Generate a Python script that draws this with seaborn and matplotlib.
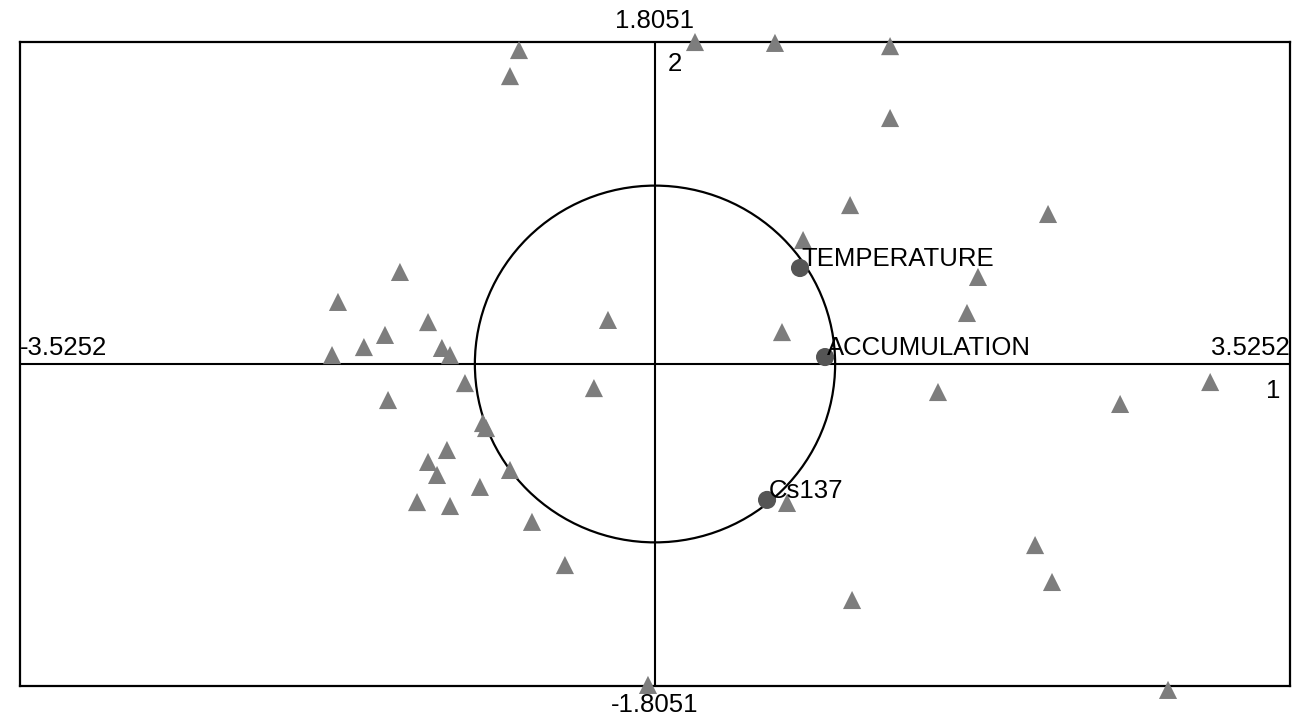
import matplotlib
matplotlib.use("Agg")
import matplotlib.pyplot as plt
from matplotlib.patches import Circle
import seaborn as sns
import pandas as pd

# axis extents of the factorial plane
x_lim = 3.5252
y_lim = 1.8051

# observations (factor 1, factor 2)
obs_f1 = [-0.755, -0.805, 0.222, 0.666, 1.305, 1.305, 1.083, 2.182, 0.822, 1.793,
          1.732, 0.705, -0.261, -1.416, -1.760, -1.499, -1.260, -1.616, -1.793, -1.183,
          -1.138, -1.055, -1.482, -0.339, 1.571, 2.582, 3.082, -0.955, -0.938, -1.155,
          -1.260, -1.210, -0.805, -0.972, -1.321, -1.138, -0.683, -0.500, 0.733, 2.110,
          2.204, 1.094, 2.848, -0.039]
obs_f2 = [1.760, 1.614, 1.805, 1.800, 1.782, 1.379, 0.891, 0.841, 0.695, 0.488,
          0.286, 0.179, 0.247, 0.516, 0.348, 0.163, 0.235, 0.095, 0.050, 0.090,
          0.050, -0.107, -0.202, -0.135, -0.157, -0.224, -0.101, -0.331, -0.359, -0.482,
          -0.549, -0.622, -0.594, -0.689, -0.774, -0.796, -0.885, -1.127, -0.779, -1.015,
          -1.222, -1.323, -1.827, -1.799]

# variables on the correlation circle
var_names = ["TEMPERATURE", "ACCUMULATION", "Cs137"]
var_f1 = [0.805, 0.944, 0.622]
var_f2 = [0.538, 0.039, -0.762]

obs = pd.DataFrame({"f1": obs_f1, "f2": obs_f2})
var = pd.DataFrame({"name": var_names, "f1": var_f1, "f2": var_f2})

sns.set_style("white")
plt.rcParams["font.family"] = ["Liberation Sans", "DejaVu Sans"]
plt.rcParams["text.color"] = "black"

fs = 18.5

fig = plt.figure(figsize=(13.1, 7.22), dpi=100)
ax = fig.add_axes([20 / 1310, 36 / 722, 1270 / 1310, 644 / 722])

# axes through the origin and unit circle
ax.axhline(0, color="black", lw=1.5, zorder=1)
ax.axvline(0, color="black", lw=1.5, zorder=1)
ax.add_patch(Circle((0, 0), 1, fill=False, ec="black", lw=1.6, zorder=1))

sns.scatterplot(data=obs, x="f1", y="f2", marker="^", s=170, color="#7d7d7d",
                edgecolor="none", ax=ax, clip_on=False, zorder=3)
sns.scatterplot(data=var, x="f1", y="f2", marker="o", s=170, color="#555555",
                edgecolor="none", ax=ax, clip_on=False, zorder=3)

for _, r in var.iterrows():
    ax.text(r.f1 + 0.01, r.f2 + 0.05, r["name"], fontsize=fs, ha="left", va="center")

ax.set_xlim(-x_lim, x_lim)
ax.set_ylim(-y_lim, y_lim)
ax.set_xticks([])
ax.set_yticks([])
ax.set_xlabel("")
ax.set_ylabel("")
for sp in ax.spines.values():
    sp.set_visible(True)
    sp.set_color("black")
    sp.set_linewidth(1.6)

# extent labels and axis numbers
ax.text(0, y_lim + 0.05, f"{y_lim:.4f}", fontsize=fs, ha="center", va="bottom")
ax.text(0, -y_lim - 0.04, f"{-y_lim:.4f}", fontsize=fs, ha="center", va="top")
ax.text(-x_lim, 0.02, f"{-x_lim:.4f}", fontsize=fs, ha="left", va="bottom")
ax.text(x_lim, 0.02, f"{x_lim:.4f}", fontsize=fs, ha="right", va="bottom")
ax.text(0.07, 1.68, "2", fontsize=fs, ha="left", va="center")
ax.text(3.43, -0.15, "1", fontsize=fs, ha="center", va="center")

fig.savefig("out.png", dpi=100, facecolor="white")
